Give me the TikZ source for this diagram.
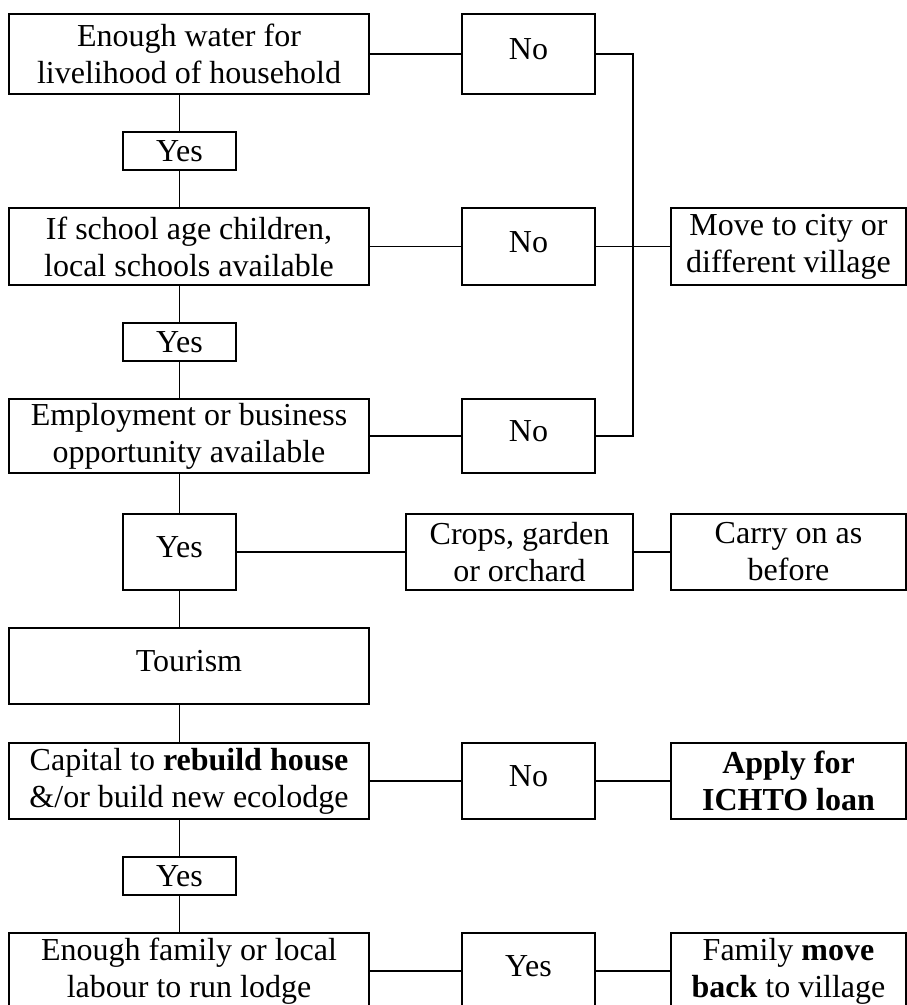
\documentclass[tikz,border=0pt]{standalone}
\usepackage{fontspec}
\setmainfont{Liberation Serif}
\usepackage{tikz}
\usetikzlibrary{positioning}
\tikzset{
  box/.style={draw, line width=0.6pt, align=center, inner sep=1pt,
    font=\fontsize{12}{13.9}\selectfont},
  leftbox/.style={box, minimum width=135pt, minimum height=28.5pt},
  midbox/.style={box, minimum width=50pt, minimum height=28.5pt},
  rightbox/.style={box, minimum width=88pt, minimum height=28.5pt},
  yesbox/.style={box, minimum width=42.4pt, minimum height=14.25pt},
  oneline/.style={text height=0.68em, text depth=0.25em},
  link/.style={line width=0.6pt}
}

\begin{document}
\begin{tikzpicture}[x=0.375pt, y=-0.375pt]
    \useasboundingbox (0,0) rectangle (907,1005);
    \clip (0,0) rectangle (907,1005);
    % left column
    \node[leftbox, minimum height=30pt] (water) at (189,54) {Enough water for\\livelihood of household};
    \node[yesbox] (yesa) at (179.5,151) {Yes};
    \node[leftbox, minimum height=28.9pt] (school) at (189,246.5) {If school age children,\\local schools available};
    \node[yesbox] (yesb) at (179.5,342) {Yes};
    \node[leftbox, minimum height=27.75pt] (work) at (189,436) {Employment or business\\opportunity available};
    \node[yesbox, oneline, minimum height=28.5pt] (yesc) at (179.5,552) {Yes};
    \node[leftbox, oneline] (tourism) at (189,666) {Tourism};
    \node[leftbox] (capital) at (189,781) {Capital to \textbf{rebuild house}\\\&/or build new ecolodge};
    \node[yesbox] (yesd) at (179.5,876) {Yes};
    \node[leftbox] (labour) at (189,971) {Enough family or local\\labour to run lodge};
    % middle column
    \node[midbox, oneline, minimum height=30pt] (noa) at (528.5,54) {No};
    \node[midbox, oneline, minimum height=28.9pt] (nob) at (528.5,246.5) {No};
    \node[midbox, oneline, minimum height=27.75pt] (noc) at (528.5,436) {No};
    \node[box, minimum width=85.1pt, minimum height=28.5pt] (crops) at (519.5,552) {Crops, garden\\or orchard};
    \node[midbox, oneline] (nod) at (528.5,781) {No};
    \node[midbox, oneline] (yese) at (528.5,971) {Yes};
    % right column
    \node[rightbox, minimum height=28.9pt] (move) at (788.5,246.5) {Move to city or\\different village};
    \node[rightbox] (carry) at (788.5,552) {Carry on as\\before};
    \node[rightbox, font=\fontsize{12}{13.9}\selectfont\bfseries] (loan) at (788.5,781) {Apply for\\ICHTO loan};
    \node[rightbox] (family) at (788.5,971) {Family \textbf{move}\\\textbf{back} to village};
    \coordinate (bus) at (633,0);

    % vertical links
    \foreach \a/\b in {water/yesa, yesa/school, school/yesb, yesb/work, work/yesc,
                       yesc/tourism, tourism/capital, capital/yesd, yesd/labour}
        \draw[link] (\a.south -| yesa) -- (\b.north -| yesa);
    % horizontal links
    \draw[link] (water) -- (noa);
    \draw[link] (school) -- (nob);
    \draw[link] (work) -- (noc);
    \draw[link] (nob) -- (move);
    \draw[link] (noa.east) -- (noa.east -| bus) -- (noc.east -| bus) -- (noc.east);
    \draw[link] (yesc) -- (crops);
    \draw[link] (crops) -- (carry);
    \draw[link] (capital) -- (nod);
    \draw[link] (nod) -- (loan);
    \draw[link] (labour) -- (yese);
    \draw[link] (yese) -- (family);
\end{tikzpicture}
\end{document}
